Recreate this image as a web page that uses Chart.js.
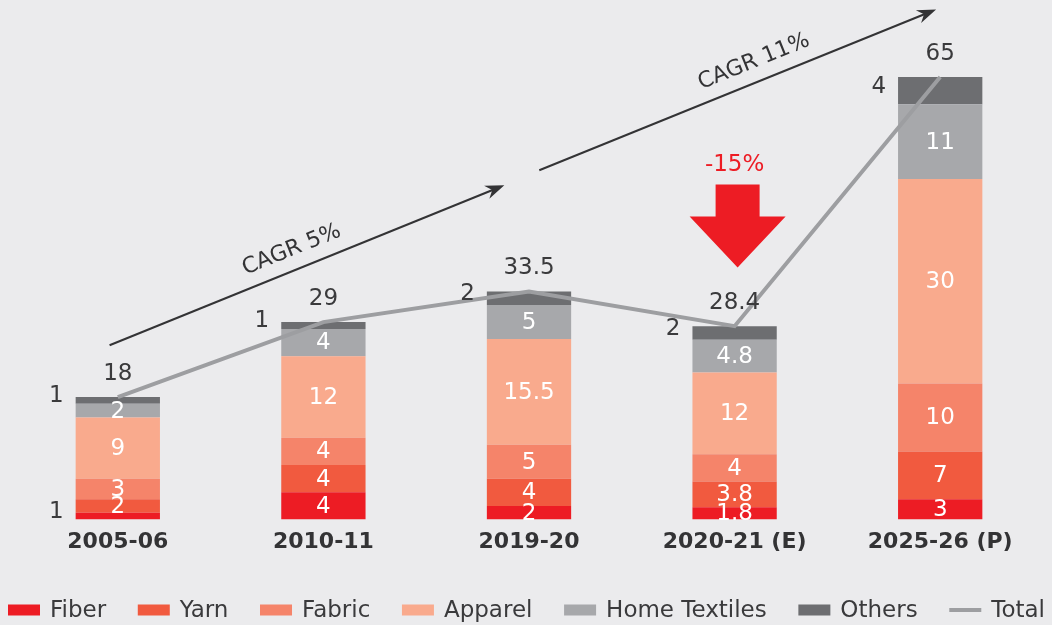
<!DOCTYPE html>
<html>
<head>
<meta charset="utf-8">
<script src="https://cdn.jsdelivr.net/npm/chart.js@4.4.1/dist/chart.umd.min.js"></script>
<style>
  html, body { margin: 0; padding: 0; background: #ebebed; }
  #wrap { width: 1052px; height: 625px; }
</style>
</head>
<body>
<div id="wrap"><canvas id="chart"></canvas></div>
<script>
// Textile market size by segment (USD bn)
const years = ["2005-06", "2010-11", "2019-20", "2020-21 (E)", "2025-26 (P)"];
const fiber = [1, 4, 2, 1.8, 3];
const yarn = [2, 4, 4, 3.8, 7];
const fabric = [3, 4, 5, 4, 10];
const apparel = [9, 12, 15.5, 12, 30];
const homeTextiles = [2, 4, 5, 4.8, 11];
const others = [1, 1, 2, 2, 4];
const total = [18, 29, 33.5, 28.4, 65];

// growth notes (x in category units, y in value units)
const cagrNotes = [
  { text: "CAGR 5%", from: [-0.04, 25.6], to: [1.88, 49.1], at: 0.48 },
  { text: "CAGR 11%", from: [2.05, 51.3], to: [3.98, 74.9], at: 0.56 }
];
const dropNote = { text: "-15%", index: 3, tip: 37 };

const FONT = "'DejaVu Sans', sans-serif";
const DARK = "#3a3a3c";

// ========== Plugins ==========

// value labels on each segment + totals above bars
const segmentLabels = {
  id: "segmentLabels",
  afterDatasetsDraw(chart) {
    const ctx = chart.ctx;
    ctx.save();
    ctx.textBaseline = "middle";
    chart.data.datasets.forEach((ds, i) => {
      if (ds.type === "line") return;
      const meta = chart.getDatasetMeta(i);
      meta.data.forEach((bar, j) => {
        const v = ds.data[j];
        const h = Math.abs(bar.base - bar.y);
        const midY = (bar.y + bar.base) / 2;
        ctx.font = "23px " + FONT;
        if (ds.label === "Others" || h < 10) {
          ctx.fillStyle = DARK;
          ctx.textAlign = "right";
          ctx.fillText(String(v), bar.x - bar.width / 2 - 12, midY - 4);
        } else {
          ctx.fillStyle = "#ffffff";
          ctx.textAlign = "center";
          ctx.fillText(String(v), bar.x, midY + 1);
        }
      });
    });
    // totals
    const topMeta = chart.getDatasetMeta(5);
    ctx.fillStyle = DARK;
    ctx.font = "23px " + FONT;
    ctx.textAlign = "center";
    topMeta.data.forEach((bar, j) => {
      ctx.fillText(String(total[j]), bar.x, bar.y - 23);
    });
    ctx.restore();
  }
};

// CAGR arrows and the red drop arrow
const notes = {
  id: "notes",
  afterDatasetsDraw(chart) {
    const ctx = chart.ctx;
    const xs = chart.scales.x, ys = chart.scales.y;
    ctx.save();
    cagrNotes.forEach(n => {
      const x1 = xs.getPixelForValue(n.from[0]), y1 = ys.getPixelForValue(n.from[1]);
      const x2 = xs.getPixelForValue(n.to[0]), y2 = ys.getPixelForValue(n.to[1]);
      const ang = Math.atan2(y2 - y1, x2 - x1);
      const c = Math.cos(ang), s = Math.sin(ang);
      ctx.strokeStyle = "#333335";
      ctx.fillStyle = "#333335";
      ctx.lineWidth = 2;
      ctx.beginPath();
      ctx.moveTo(x1, y1);
      ctx.lineTo(x2 - 12 * c, y2 - 12 * s);
      ctx.stroke();
      // head
      ctx.beginPath();
      ctx.moveTo(x2, y2);
      ctx.lineTo(x2 - 19 * c + 7 * s, y2 - 19 * s - 7 * c);
      ctx.lineTo(x2 - 13 * c, y2 - 13 * s);
      ctx.lineTo(x2 - 19 * c - 7 * s, y2 - 19 * s + 7 * c);
      ctx.closePath();
      ctx.fill();
      // text
      const mx = x1 + (x2 - x1) * n.at, my = y1 + (y2 - y1) * n.at;
      ctx.translate(mx + 20 * s, my - 20 * c);
      ctx.rotate(ang);
      ctx.font = "22px " + FONT;
      ctx.textAlign = "center";
      ctx.textBaseline = "middle";
      ctx.fillText(n.text, 0, 0);
      ctx.setTransform(1, 0, 0, 1, 0, 0);
    });

    // red drop arrow
    const cx = xs.getPixelForValue(dropNote.index) + 3;
    const tip = ys.getPixelForValue(dropNote.tip);
    const headTop = tip - 51;
    const shaftTop = headTop - 32;
    ctx.fillStyle = "#ed1c24";
    ctx.beginPath();
    ctx.moveTo(cx - 22, shaftTop);
    ctx.lineTo(cx + 22, shaftTop);
    ctx.lineTo(cx + 22, headTop);
    ctx.lineTo(cx + 48, headTop);
    ctx.lineTo(cx, tip);
    ctx.lineTo(cx - 48, headTop);
    ctx.lineTo(cx - 22, headTop);
    ctx.closePath();
    ctx.fill();
    ctx.font = "23px " + FONT;
    ctx.textAlign = "center";
    ctx.textBaseline = "middle";
    ctx.fillText(dropNote.text, cx - 3, shaftTop - 20);
    ctx.restore();
  }
};

// legend along the bottom, spread edge to edge like the original
const bottomLegend = {
  id: "bottomLegend",
  afterDraw(chart) {
    const ctx = chart.ctx;
    const left = 8, right = 1045, y = 610, boxW = 32, boxH = 11, textGap = 10;
    ctx.save();
    ctx.font = "23px " + FONT;
    ctx.textBaseline = "middle";
    ctx.textAlign = "left";
    const items = chart.data.datasets.map(ds => ({
      ds,
      w: boxW + textGap + ctx.measureText(ds.label).width
    }));
    const used = items.reduce((a, it) => a + it.w, 0);
    const gap = (right - left - used) / (items.length - 1);
    let x = left;
    items.forEach(it => {
      if (it.ds.type === "line") {
        ctx.strokeStyle = it.ds.borderColor;
        ctx.lineWidth = 4;
        ctx.beginPath();
        ctx.moveTo(x, y);
        ctx.lineTo(x + boxW, y);
        ctx.stroke();
      } else {
        ctx.fillStyle = it.ds.backgroundColor;
        ctx.fillRect(x, y - boxH / 2, boxW, boxH);
      }
      ctx.fillStyle = DARK;
      ctx.fillText(it.ds.label, x + boxW + textGap, y + 1);
      x += it.w + gap;
    });
    ctx.restore();
  }
};

// ========== Chart ==========
function barSet(label, data, color) {
  return { type: "bar", label, data, backgroundColor: color, borderWidth: 0, order: 1, stack: "seg" };
}

new Chart(document.getElementById("chart"), {
  data: {
    labels: years,
    datasets: [
      barSet("Fiber", fiber, "#ed1c24"),
      barSet("Yarn", yarn, "#f15a3f"),
      barSet("Fabric", fabric, "#f5846a"),
      barSet("Apparel", apparel, "#f9aa8d"),
      barSet("Home Textiles", homeTextiles, "#a7a8ab"),
      barSet("Others", others, "#6d6e71"),
      {
        type: "line",
        label: "Total",
        data: total,
        borderColor: "#9d9ea1",
        backgroundColor: "#9d9ea1",
        borderWidth: 4,
        pointRadius: 0,
        tension: 0,
        order: 0,
        stack: "total"
      }
    ]
  },
  options: {
    responsive: true,
    maintainAspectRatio: false,
    animation: false,
    devicePixelRatio: 1,
    layout: { padding: { left: 15, right: 9, top: 2, bottom: 69 } },
    datasets: { bar: { categoryPercentage: 1, barPercentage: 0.41 } },
    scales: {
      x: {
        stacked: true,
        grid: { display: false },
        border: { display: false },
        ticks: { color: "#333335", font: { family: FONT, size: 22, weight: "bold" }, padding: 1 }
      },
      y: { stacked: true, min: 0, max: 76, display: false }
    },
    plugins: {
      tooltip: { enabled: false },
      legend: { display: false }
    }
  },
  plugins: [segmentLabels, notes, bottomLegend]
});
</script>
</body>
</html>
